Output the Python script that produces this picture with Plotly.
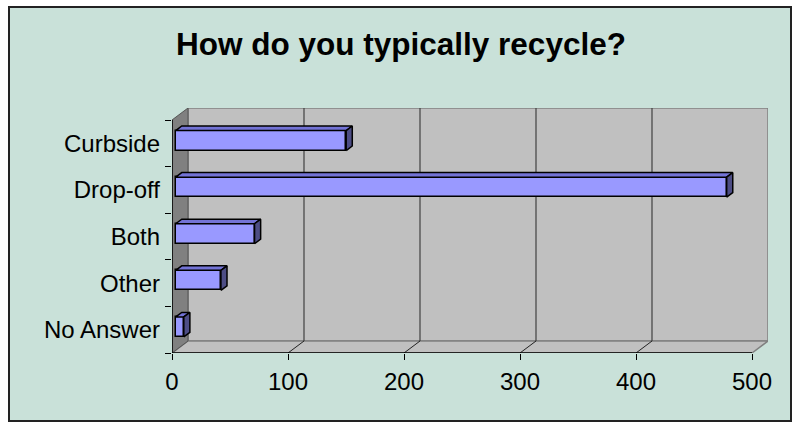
import plotly.graph_objects as go

# data
categories = ["No Answer", "Other", "Both", "Drop-off", "Curbside"]
counts = [7, 39, 68, 475, 147]
value_ticks = [0, 100, 200, 300, 400, 500]
chart_title = "How do you typically recycle?"

FONT = "Liberation Sans, Arial, sans-serif"

# layout in pixels
W, H = 802, 423
PL, PR, PT, PB = 172, 768, 108, 353      # plot box (front-left to back-right)
FRONT_RIGHT = 752                         # px of the last tick on the front axis
CAT_TOP = 120                             # px of the front top of category axis
DEPTH_X, DEPTH_Y = 16, 12                 # 3d depth in px
FRAME = (9, 7, 791, 421)                  # outer chart border

px_per_unit = (FRONT_RIGHT - PL) / value_ticks[-1]
cat_px = (PB - CAT_TOP) / len(categories)
dx = DEPTH_X / px_per_unit
dy = DEPTH_Y / cat_px
x_max = (PR - PL) / px_per_unit
y_lo = -0.5
y_hi = y_lo + (PB - PT) / cat_px
n = len(categories)

# bar geometry (fractions of the depth)
f_front, f_depth = 0.23, 0.38
bar_h = 20 / cat_px
bx0 = f_front * dx
bdx, bdy = f_depth * dx, f_depth * dy
ys = [i + f_front * dy for i in range(n)]

fig = go.Figure()

# front faces
fig.add_trace(go.Bar(
    x=counts, y=ys, base=[bx0] * n, orientation="h", width=bar_h,
    marker=dict(color="#9999FF", line=dict(color="black", width=1.5)),
    hovertext=categories, hoverinfo="text+x", showlegend=False,
))

top_x, top_y, side_x, side_y = [], [], [], []
for v, yc in zip(counts, ys):
    yt, yb = yc + bar_h / 2, yc - bar_h / 2
    x1 = bx0 + v
    top_x += [bx0, x1, x1 + bdx, bx0 + bdx, bx0, None]
    top_y += [yt, yt, yt + bdy, yt + bdy, yt, None]
    side_x += [x1, x1 + bdx, x1 + bdx, x1, x1, None]
    side_y += [yb, yb + bdy, yt + bdy, yt, yb, None]

fig.add_trace(go.Scatter(x=top_x, y=top_y, mode="lines", fill="toself",
                         fillcolor="#7373D6", line=dict(color="black", width=1.5),
                         hoverinfo="skip", showlegend=False))
fig.add_trace(go.Scatter(x=side_x, y=side_y, mode="lines", fill="toself",
                         fillcolor="#4D4D85", line=dict(color="black", width=1.5),
                         hoverinfo="skip", showlegend=False))

# background frame in paper coordinates
def paper_x(p):
    return (p - PL) / (PR - PL)

def paper_y(p):
    return (PB - p) / (PB - PT)

shapes = [dict(type="rect", xref="paper", yref="paper", layer="below",
               x0=paper_x(FRAME[0]), x1=paper_x(FRAME[2]),
               y0=paper_y(FRAME[3]), y1=paper_y(FRAME[1]),
               fillcolor="#C9E1D9", line=dict(color="#222222", width=2))]

wall_line = dict(color="#808080", width=1.5)
# back wall
shapes.append(dict(type="rect", layer="below", x0=dx, x1=value_ticks[-1] + dx,
                   y0=y_lo + dy, y1=n - 0.5 + dy, fillcolor="#C0C0C0", line=wall_line))
# floor
shapes.append(dict(type="path", layer="below", fillcolor="#C0C0C0", line=wall_line,
                   path=f"M 0,{y_lo} L {value_ticks[-1]},{y_lo} L {value_ticks[-1] + dx},{y_lo + dy} "
                        f"L {dx},{y_lo + dy} Z"))
# side wall
shapes.append(dict(type="path", layer="below", fillcolor="#808080",
                   line=dict(color="#555555", width=1),
                   path=f"M 0,{y_lo} L 0,{n - 0.5} L {dx},{n - 0.5 + dy} L {dx},{y_lo + dy} Z"))

# gridlines on the back wall + floor
for t in value_ticks[1:-1]:
    shapes.append(dict(type="line", layer="below", x0=t + dx, x1=t + dx,
                       y0=y_lo + dy, y1=n - 0.5 + dy, line=dict(color="#404040", width=1.2)))
    shapes.append(dict(type="line", layer="below", x0=t, x1=t + dx,
                       y0=y_lo, y1=y_lo + dy, line=dict(color="#222222", width=1)))

# axis lines
shapes.append(dict(type="line", layer="below", x0=0, x1=value_ticks[-1], y0=y_lo, y1=y_lo,
                   line=dict(color="black", width=1.5)))
shapes.append(dict(type="line", layer="below", x0=0, x1=0, y0=y_lo, y1=n - 0.5,
                   line=dict(color="black", width=1.5)))

fig.update_layout(
    width=W, height=H, autosize=False,
    margin=dict(l=PL, r=W - PR, t=PT, b=H - PB, pad=0),
    paper_bgcolor="white", plot_bgcolor="rgba(0,0,0,0)",
    font=dict(family=FONT, size=24, color="black"),
    title=dict(text=f"<b>{chart_title}</b>", x=0.5, xanchor="center",
               y=1 - 44 / H, yanchor="middle", font=dict(size=31.5, family=FONT)),
    bargap=0, showlegend=False, shapes=shapes,
    xaxis=dict(range=[0, x_max], tickvals=value_ticks, ticks="outside", ticklen=6,
               tickcolor="black", tickwidth=1, showgrid=False, zeroline=False,
               showline=False, ticklabelstandoff=1, fixedrange=True),
    yaxis=dict(range=[y_lo, y_hi], tickvals=list(range(n)), ticktext=categories,
               ticks="", ticklabelstandoff=11, showgrid=False, zeroline=False,
               showline=False, fixedrange=True,
               minor=dict(tickvals=[i - 0.5 for i in range(n + 1)], ticks="outside",
                          ticklen=6, tickcolor="black", tickwidth=1, showgrid=False)),
)

# drop the default page margin so the chart sits at the window origin
fig.write_html("out.html", config={"displayModeBar": False},
               post_script="document.body.style.margin='0';")
